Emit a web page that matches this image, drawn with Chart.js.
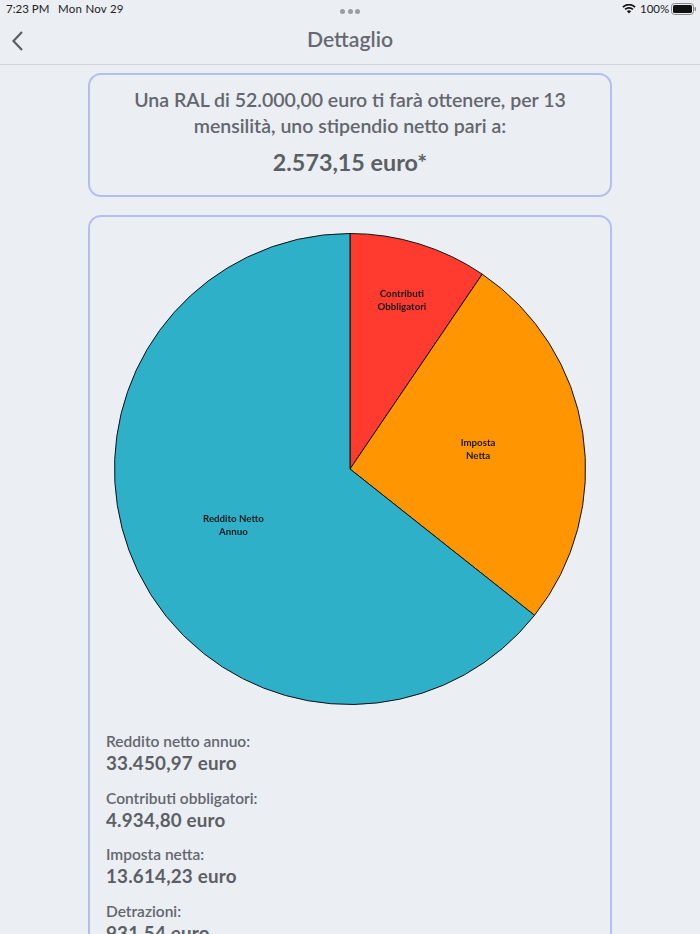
<!DOCTYPE html>
<html lang="it">
<head>
<meta charset="utf-8">
<title>Dettaglio</title>
<script src="https://cdn.jsdelivr.net/npm/chart.js@4"></script>
<style>
  html, body { margin: 0; padding: 0; }
  body { width: 700px; height: 934px; overflow: hidden; position: relative; background: #ebeef3; color: #5b5f65; font-family: Lato, sans-serif; }
  .abs { position: absolute; white-space: nowrap; line-height: 1; }
  .status { font-size: 11.5px; color: #222; top: 3px; }
  .dots { left: 340px; top: 9px; width: 20px; height: 5px; display: flex; justify-content: space-between; }
  .dots i { width: 5px; height: 5px; border-radius: 50%; background: #9a9da3; }
  .navline { left: 0; top: 64px; width: 700px; height: 1px; background: #d2d4d8; }
  .title { left: 0; width: 700px; text-align: center; top: 29px; font-size: 21.2px; font-weight: 600; color: #666a70; }
  .card { box-sizing: border-box; left: 88px; width: 524px; border: 2px solid #b2bff0; border-radius: 13px; }
  #card1 { top: 73px; height: 124px; }
  #card2 { top: 215px; height: 760px; }
  .center { left: 88px; width: 524px; text-align: center; }
  .intro { font-size: 19.5px; font-weight: 600; color: #63676d; }
  .net { font-size: 23.3px; font-weight: 700; }
  #chartBox { position: absolute; left: 114px; top: 233px; width: 472px; height: 472px; }
  .lab { left: 106px; font-size: 15.5px; font-weight: 600; color: #63676d; }
  .val { left: 106px; font-size: 18.8px; font-weight: 700; letter-spacing: .2px; }
</style>
</head>
<body>
<div class="abs status" style="left:6px">7:23 PM</div>
<div class="abs status" style="left:58px;letter-spacing:.25px">Mon Nov 29</div>
<div class="abs dots"><i></i><i></i><i></i></div>
<svg class="abs" style="left:622px;top:4px" width="14" height="10" viewBox="0 0 14 10">
  <path d="M7 9.6 L4.9 7.3 A3 3 0 0 1 9.1 7.3 Z M3.7 6.1 L2.5 4.8 A6.4 6.4 0 0 1 11.5 4.8 L10.3 6.1 A4.6 4.6 0 0 0 3.7 6.1 Z M1.5 3.8 L.3 2.5 A9.6 9.6 0 0 1 13.7 2.5 L12.5 3.8 A7.8 7.8 0 0 0 1.5 3.8 Z" fill="#111"/>
</svg>
<div class="abs status" style="left:640px">100%</div>
<svg class="abs" style="left:671px;top:3px" width="26" height="12" viewBox="0 0 26 12">
  <rect x=".5" y=".5" width="22" height="11" rx="3" fill="none" stroke="#888"/>
  <rect x="2" y="2" width="19" height="8" rx="1.6" fill="#111"/>
  <rect x="23.6" y="4" width="1.4" height="4" rx=".7" fill="#888"/>
</svg>
<svg class="abs" style="left:11px;top:30px" width="14" height="22" viewBox="0 0 14 22">
  <path d="M11 2 L2.5 11 L11 20" fill="none" stroke="#5b5f65" stroke-width="2.2"/>
</svg>
<div class="abs title">Dettaglio</div>
<div class="abs navline"></div>

<div class="abs card" id="card1"></div>
<div class="abs center intro" style="top:90px">Una RAL di 52.000,00 euro ti farà ottenere, per 13</div>
<div class="abs center intro" style="top:116px">mensilità, uno stipendio netto pari a:</div>
<div class="abs center net" style="top:151px">2.573,15 euro*</div>

<div class="abs card" id="card2"></div>
<div id="chartBox"><canvas id="pie"></canvas></div>
<div id="list"></div>

<script>
const sliceLabels = ['Contributi\nObbligatori', 'Imposta\nNetta', 'Reddito Netto\nAnnuo'];
const sliceValues = [4934.80, 13614.23, 33450.97];
const sliceColors = ['#ff3b30', '#ff9500', '#2fb0c9'];

const detailLabels = ['Reddito netto annuo:', 'Contributi obbligatori:', 'Imposta netta:', 'Detrazioni:'];
const detailValues = ['33.450,97 euro', '4.934,80 euro', '13.614,23 euro', '931,54 euro'];

const list = document.getElementById('list');
detailLabels.forEach((text, i) => {
    const top = 734 + i * 56.5;
    const lab = document.createElement('div');
    lab.className = 'abs lab';
    lab.style.top = top + 'px';
    lab.textContent = text;
    const val = document.createElement('div');
    val.className = 'abs val';
    val.style.top = (top + 20) + 'px';
    val.textContent = detailValues[i];
    list.append(lab, val);
});

// labels inside the slices, thin slices get them further out
const sliceText = {
    id: 'sliceText',
    afterDatasetsDraw(chart) {
        const { ctx } = chart;
        ctx.save();
        ctx.font = '700 9.7px Lato, sans-serif';
        ctx.fillStyle = '#1a1a1a';
        ctx.textAlign = 'center';
        ctx.textBaseline = 'middle';
        chart.getDatasetMeta(0).data.forEach((arc, i) => {
            const { startAngle, endAngle, outerRadius, x, y } = arc.getProps(['startAngle', 'endAngle', 'outerRadius', 'x', 'y'], true);
            const mid = (startAngle + endAngle) / 2;
            const r = outerRadius * (endAngle - startAngle < 1 ? 0.75 : 0.55);
            const lines = sliceLabels[i].split('\n');
            lines.forEach((line, n) => {
                ctx.fillText(line, x + Math.cos(mid) * r, y + Math.sin(mid) * r + (n - (lines.length - 1) / 2) * 12.5);
            });
        });
        ctx.restore();
    }
};

new Chart(document.getElementById('pie'), {
    type: 'pie',
    data: {
        labels: sliceLabels,
        datasets: [{
            data: sliceValues,
            backgroundColor: sliceColors,
            borderColor: '#111',
            borderWidth: 1
        }]
    },
    options: {
        responsive: true,
        maintainAspectRatio: false,
        animation: false,
        plugins: {
            legend: { display: false },
            tooltip: { enabled: false }
        }
    },
    plugins: [sliceText]
});
</script>
</body>
</html>
